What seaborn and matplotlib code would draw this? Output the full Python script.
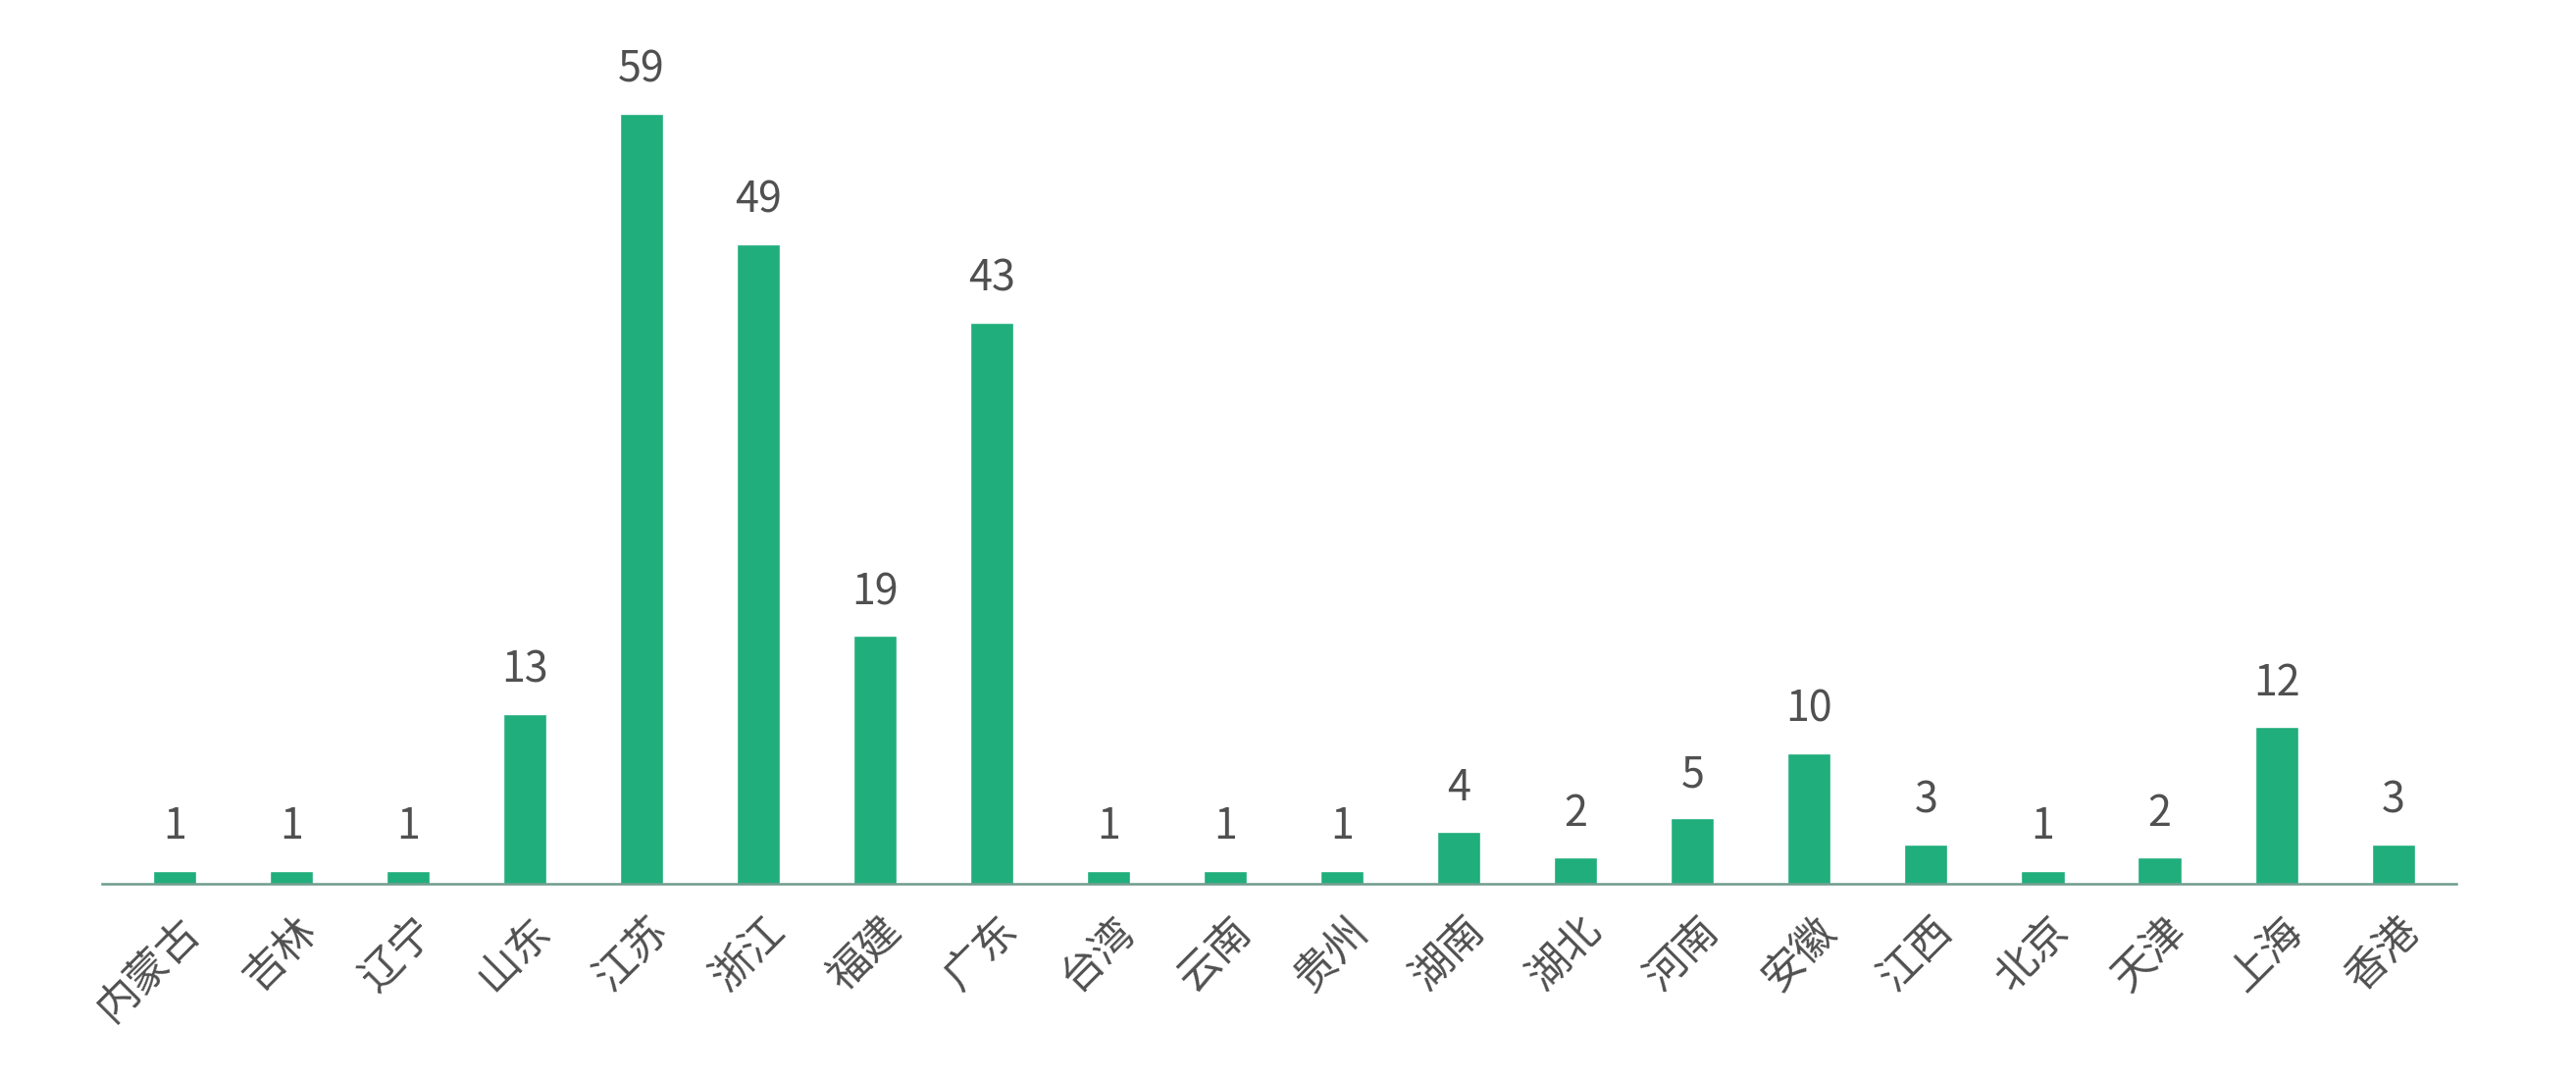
import matplotlib
matplotlib.use("Agg")
import matplotlib.pyplot as plt
import matplotlib.transforms as mtransforms
import pandas as pd
import seaborn as sns

sns.set_theme(style='white')
plt.rcParams['font.family'] = ['Noto Sans CJK SC', 'DejaVu Sans']

# Data
provinces = ['内蒙古', '吉林', '辽宁', '山东', '江苏', '浙江', '福建', '广东', '台湾', '云南',
             '贵州', '湖南', '湖北', '河南', '安徽', '江西', '北京', '天津', '上海', '香港']
counts = [1, 1, 1, 13, 59, 49, 19, 43, 1, 1, 1, 4, 2, 5, 10, 3, 1, 2, 12, 3]

df = pd.DataFrame({'province': provinces, 'count': counts})

bar_color = '#20ae7c'
text_color = '#505050'

fig = plt.figure(figsize=(26.26, 10.98), dpi=100)
ax = fig.add_axes([0.0396, 0.1794, 0.9139, 0.79])

sns.barplot(data=df, x='province', y='count', color=bar_color, width=0.37,
            saturation=1, ax=ax)

ax.bar_label(ax.containers[0], padding=16, fontsize=31, color=text_color)

ax.set_xlim(-0.62, len(provinces) - 0.46)
ax.set_ylim(0, 65.2)
ax.set_xlabel('')
ax.set_ylabel('')
ax.set_yticks([])

for side in ['top', 'right', 'left']:
    ax.spines[side].set_visible(False)
ax.spines['bottom'].set_color('#6f9c8c')
ax.spines['bottom'].set_linewidth(1.8)

ax.tick_params(axis='x', length=0, pad=30)
# nudge the rotated labels a little to the right, as in the original
shift = mtransforms.ScaledTranslation(0.2, 0, fig.dpi_scale_trans)
for lbl in ax.get_xticklabels():
    lbl.set_rotation(45)
    lbl.set_ha('right')
    lbl.set_va('center')
    lbl.set_rotation_mode('anchor')
    lbl.set_fontsize(31)
    lbl.set_color(text_color)
    lbl.set_transform(lbl.get_transform() + shift)

fig.savefig('out.png', dpi=100, facecolor='white')
